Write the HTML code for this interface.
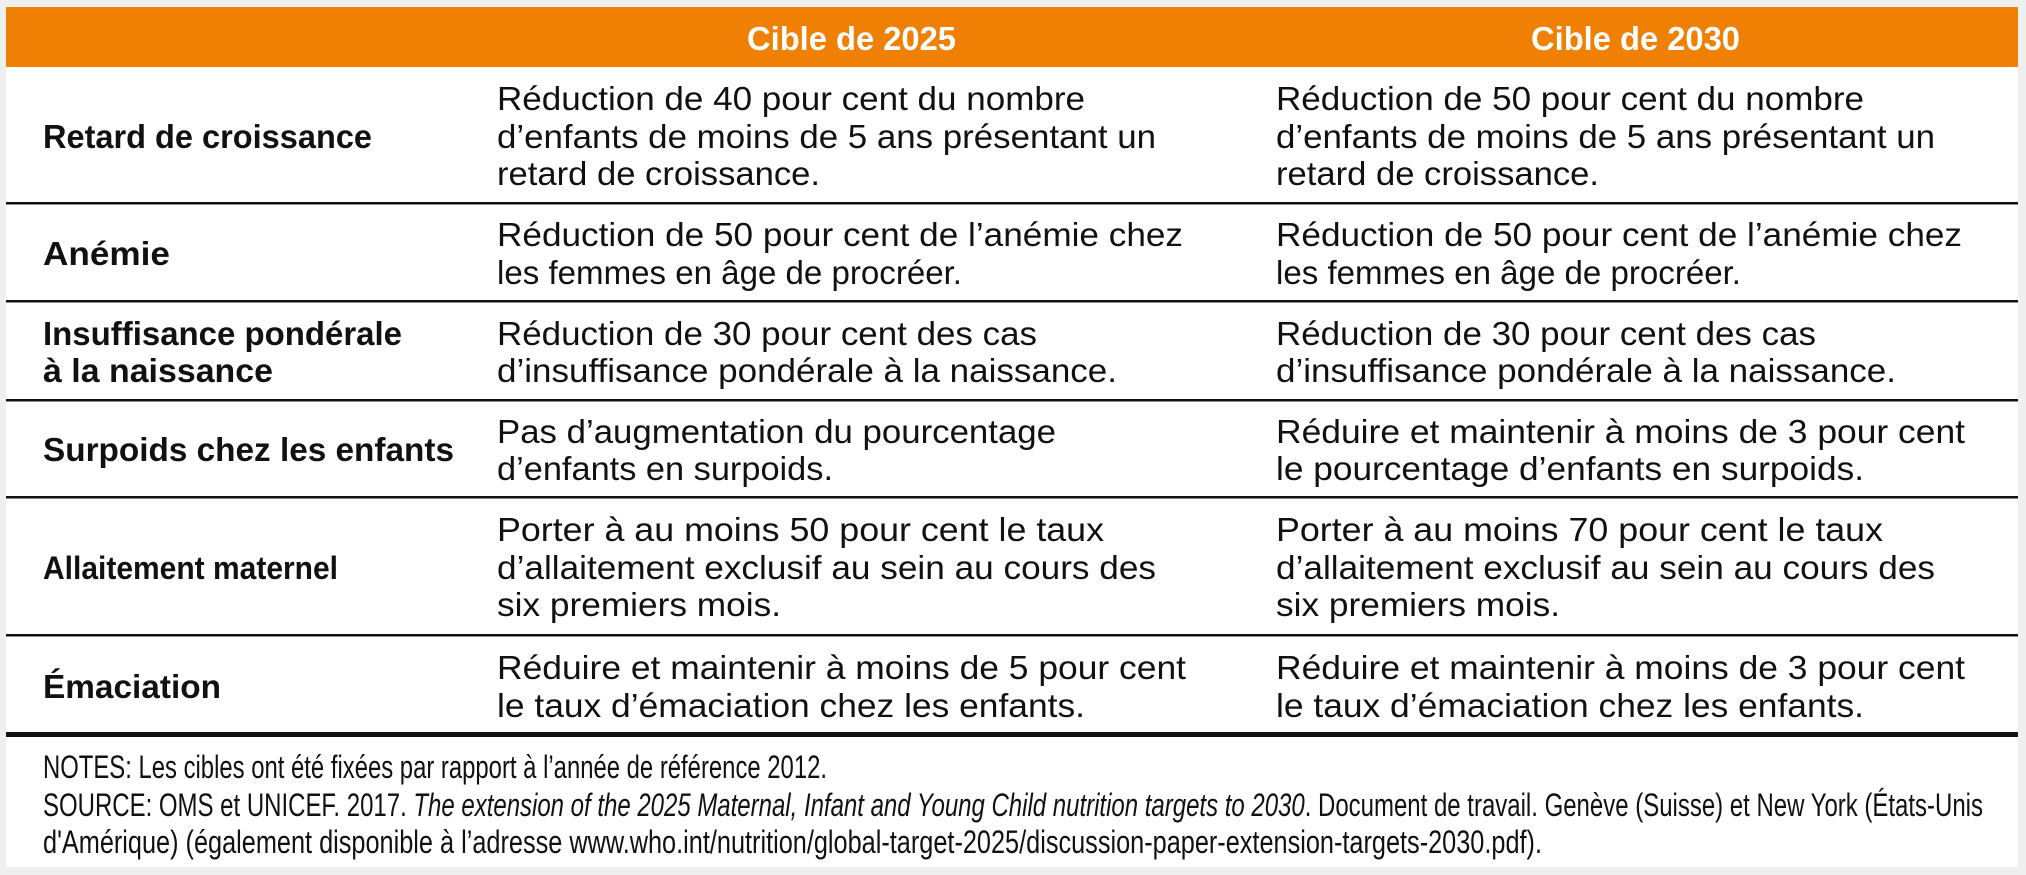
<!DOCTYPE html>
<html><head><meta charset="utf-8"><style>
html,body{margin:0;padding:0;background:#efefef;}
svg{display:block;}
.b{font-family:"Liberation Sans",sans-serif;font-size:33px;fill:#111;}
.l{font-family:"Liberation Sans",sans-serif;font-size:33px;font-weight:bold;fill:#111;}
.h{font-family:"Liberation Sans",sans-serif;font-size:33px;font-weight:bold;fill:#fff;}
.n{font-family:"Liberation Sans",sans-serif;font-size:32px;fill:#111;}
</style></head><body>
<svg width="2026" height="875" xmlns="http://www.w3.org/2000/svg">
<rect x="0" y="0" width="2026" height="875" fill="#efefef"/>
<rect x="6" y="7" width="2012" height="860" fill="#fff"/>
<rect x="6" y="7" width="2012" height="60" fill="#f08003"/>
<text class="h" x="747" y="50" textLength="209" lengthAdjust="spacingAndGlyphs">Cible de 2025</text>
<text class="h" x="1531" y="50" textLength="209" lengthAdjust="spacingAndGlyphs">Cible de 2030</text>
<g fill="#111">
<rect x="6" y="202" width="2012" height="2.5"/>
<rect x="6" y="300" width="2012" height="2.5"/>
<rect x="6" y="399" width="2012" height="2.5"/>
<rect x="6" y="496" width="2012" height="2.5"/>
<rect x="6" y="634" width="2012" height="2.5"/>
<rect x="6" y="732" width="2012" height="5"/>
</g>
<!-- Row 1 -->
<text class="l" x="43" y="148" textLength="329" lengthAdjust="spacingAndGlyphs">Retard de croissance</text>
<text class="b" x="497" y="110" textLength="588" lengthAdjust="spacingAndGlyphs">Réduction de 40 pour cent du nombre</text>
<text class="b" x="497" y="148" textLength="659" lengthAdjust="spacingAndGlyphs">d’enfants de moins de 5 ans présentant un</text>
<text class="b" x="497" y="185" textLength="323" lengthAdjust="spacingAndGlyphs">retard de croissance.</text>
<text class="b" x="1276" y="110" textLength="588" lengthAdjust="spacingAndGlyphs">Réduction de 50 pour cent du nombre</text>
<text class="b" x="1276" y="148" textLength="659" lengthAdjust="spacingAndGlyphs">d’enfants de moins de 5 ans présentant un</text>
<text class="b" x="1276" y="185" textLength="323" lengthAdjust="spacingAndGlyphs">retard de croissance.</text>
<!-- Row 2 -->
<text class="l" x="43" y="265" textLength="127" lengthAdjust="spacingAndGlyphs">Anémie</text>
<text class="b" x="497" y="246" textLength="686" lengthAdjust="spacingAndGlyphs">Réduction de 50 pour cent de l’anémie chez</text>
<text class="b" x="497" y="284" textLength="465" lengthAdjust="spacingAndGlyphs">les femmes en âge de procréer.</text>
<text class="b" x="1276" y="246" textLength="686" lengthAdjust="spacingAndGlyphs">Réduction de 50 pour cent de l’anémie chez</text>
<text class="b" x="1276" y="284" textLength="465" lengthAdjust="spacingAndGlyphs">les femmes en âge de procréer.</text>
<!-- Row 3 -->
<text class="l" x="43" y="345" textLength="359" lengthAdjust="spacingAndGlyphs">Insuffisance pondérale</text>
<text class="l" x="43" y="382" textLength="230" lengthAdjust="spacingAndGlyphs">à la naissance</text>
<text class="b" x="497" y="345" textLength="540" lengthAdjust="spacingAndGlyphs">Réduction de 30 pour cent des cas</text>
<text class="b" x="497" y="382" textLength="620" lengthAdjust="spacingAndGlyphs">d’insuffisance pondérale à la naissance.</text>
<text class="b" x="1276" y="345" textLength="540" lengthAdjust="spacingAndGlyphs">Réduction de 30 pour cent des cas</text>
<text class="b" x="1276" y="382" textLength="620" lengthAdjust="spacingAndGlyphs">d’insuffisance pondérale à la naissance.</text>
<!-- Row 4 -->
<text class="l" x="43" y="461" textLength="411" lengthAdjust="spacingAndGlyphs">Surpoids chez les enfants</text>
<text class="b" x="497" y="443" textLength="559" lengthAdjust="spacingAndGlyphs">Pas d’augmentation du pourcentage</text>
<text class="b" x="497" y="480" textLength="336" lengthAdjust="spacingAndGlyphs">d’enfants en surpoids.</text>
<text class="b" x="1276" y="443" textLength="689" lengthAdjust="spacingAndGlyphs">Réduire et maintenir à moins de 3 pour cent</text>
<text class="b" x="1276" y="480" textLength="588" lengthAdjust="spacingAndGlyphs">le pourcentage d’enfants en surpoids.</text>
<!-- Row 5 -->
<text class="l" x="43" y="579" style="font-size:32px" textLength="295" lengthAdjust="spacingAndGlyphs">Allaitement maternel</text>
<text class="b" x="497" y="541" textLength="607" lengthAdjust="spacingAndGlyphs">Porter à au moins 50 pour cent le taux</text>
<text class="b" x="497" y="579" textLength="659" lengthAdjust="spacingAndGlyphs">d’allaitement exclusif au sein au cours des</text>
<text class="b" x="497" y="616" textLength="284" lengthAdjust="spacingAndGlyphs">six premiers mois.</text>
<text class="b" x="1276" y="541" textLength="607" lengthAdjust="spacingAndGlyphs">Porter à au moins 70 pour cent le taux</text>
<text class="b" x="1276" y="579" textLength="659" lengthAdjust="spacingAndGlyphs">d’allaitement exclusif au sein au cours des</text>
<text class="b" x="1276" y="616" textLength="284" lengthAdjust="spacingAndGlyphs">six premiers mois.</text>
<!-- Row 6 -->
<text class="l" x="43" y="698" textLength="178" lengthAdjust="spacingAndGlyphs">Émaciation</text>
<text class="b" x="497" y="679" textLength="689" lengthAdjust="spacingAndGlyphs">Réduire et maintenir à moins de 5 pour cent</text>
<text class="b" x="497" y="717" textLength="588" lengthAdjust="spacingAndGlyphs">le taux d’émaciation chez les enfants.</text>
<text class="b" x="1276" y="679" textLength="689" lengthAdjust="spacingAndGlyphs">Réduire et maintenir à moins de 3 pour cent</text>
<text class="b" x="1276" y="717" textLength="588" lengthAdjust="spacingAndGlyphs">le taux d’émaciation chez les enfants.</text>
<!-- Notes -->
<text class="n" x="43" y="778" textLength="784" lengthAdjust="spacingAndGlyphs">NOTES: Les cibles ont été fixées par rapport à l’année de référence 2012.</text>
<text class="n" x="43" y="816" textLength="1940" lengthAdjust="spacingAndGlyphs">SOURCE: OMS et UNICEF. 2017. <tspan font-style="italic">The extension of the 2025 Maternal, Infant and Young Child nutrition targets to 2030</tspan>. Document de travail. Genève (Suisse) et New York (États-Unis</text>
<text class="n" x="43" y="853" textLength="1499" lengthAdjust="spacingAndGlyphs">d'Amérique) (également disponible à l’adresse www.who.int/nutrition/global-target-2025/discussion-paper-extension-targets-2030.pdf).</text>
</svg>
</body></html>
